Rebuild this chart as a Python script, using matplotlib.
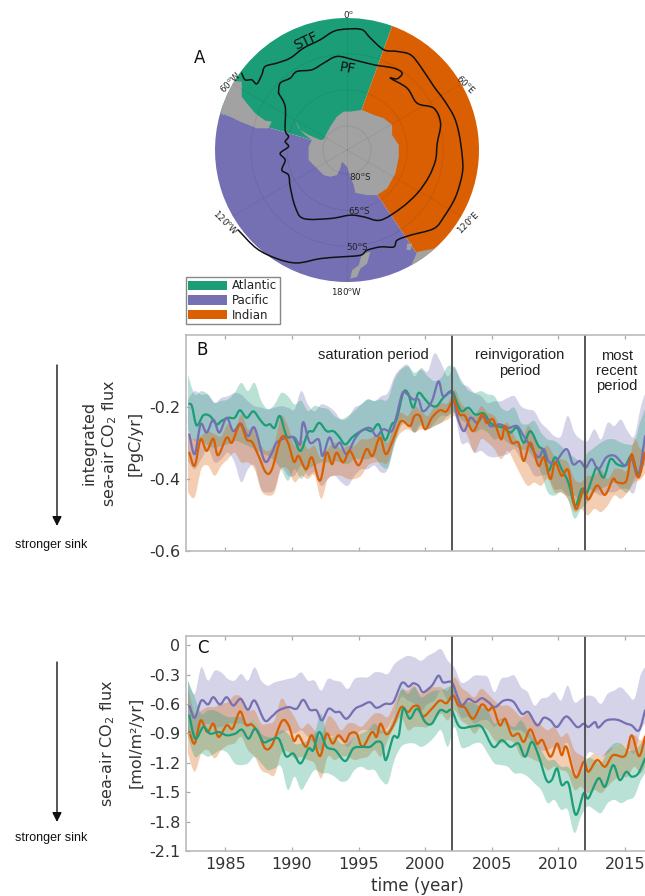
import numpy as np
import matplotlib
matplotlib.use("Agg")
import matplotlib.pyplot as plt
from matplotlib.patches import Wedge, Polygon, Circle, Patch, PathPatch, FancyArrowPatch
from matplotlib.path import Path

W, H = 645, 896
GREEN, PURPLE, ORANGE = "#1b9e77", "#7570b3", "#d95f02"
TXT = "#333333"

# ---------- Panel B: band edges (half-year samples from 1982.2) ----------
b_green_up = [-.11,-.165,-.156,-.165,-.188,-.183,-.179,-.161,-.133,-.156,-.133,-.183,-.206,-.193,-.161,-.17,-.193,-.183,-.211,-.197,-.202,-.206,-.225,-.234,-.225,-.211,-.193,-.179,-.183,-.179,-.179,-.124,-.096,-.087,-.105,-.096,-.115,-.128,-.119,-.087,
 -.092,-.124,-.152,-.161,-.156,-.165,-.17,-.202,-.211,-.202,-.244,-.248,-.239,-.271,-.29,-.294,-.308,-.327,-.34,-.354,-.327,-.313,-.299,-.29,-.29,-.299,-.304,-.299,-.235,-.19]
b_green_lo = [-.262,-.294,-.29,-.308,-.313,-.308,-.304,-.294,-.299,-.308,-.317,-.327,-.336,-.35,-.373,-.405,-.373,-.4,-.373,-.363,-.354,-.354,-.35,-.354,-.359,-.345,-.345,-.345,-.34,-.363,-.368,-.308,-.253,-.248,-.271,-.253,-.262,-.253,-.244,-.225,
 -.216,-.235,-.248,-.271,-.262,-.271,-.29,-.285,-.299,-.308,-.317,-.322,-.345,-.382,-.437,-.446,-.437,-.455,-.51,-.483,-.465,-.437,-.428,-.419,-.41,-.428,-.437,-.4,-.373,-.354]
b_purple_up = [-.179,-.156,-.166,-.166,-.189,-.175,-.17,-.161,-.166,-.184,-.198,-.202,-.207,-.202,-.198,-.202,-.207,-.156,-.193,-.212,-.193,-.198,-.212,-.235,-.23,-.202,-.193,-.179,-.184,-.17,-.161,-.115,-.092,-.083,-.115,-.092,-.101,-.051,-.078,-.115,
 -.087,-.133,-.143,-.161,-.17,-.189,-.184,-.184,-.175,-.17,-.198,-.207,-.212,-.244,-.262,-.281,-.281,-.225,-.271,-.29,-.294,-.262,-.29,-.244,-.253,-.235,-.267,-.281,-.198,-.143]
b_purple_lo = [-.35,-.373,-.345,-.317,-.354,-.345,-.327,-.354,-.409,-.373,-.363,-.428,-.437,-.428,-.368,-.391,-.391,-.363,-.391,-.382,-.419,-.4,-.391,-.409,-.419,-.391,-.373,-.373,-.363,-.382,-.373,-.299,-.235,-.244,-.271,-.244,-.262,-.244,-.225,-.225,
 -.216,-.299,-.299,-.327,-.322,-.336,-.34,-.336,-.331,-.317,-.345,-.359,-.391,-.391,-.391,-.428,-.428,-.446,-.446,-.455,-.428,-.437,-.446,-.437,-.437,-.428,-.428,-.437,-.354,-.281]
b_orange_up = [-.271,-.29,-.281,-.267,-.276,-.281,-.248,-.267,-.221,-.262,-.262,-.308,-.322,-.299,-.225,-.253,-.308,-.29,-.317,-.308,-.345,-.317,-.299,-.317,-.308,-.308,-.29,-.29,-.281,-.271,-.299,-.235,-.216,-.225,-.198,-.212,-.225,-.198,-.189,-.189,
 -.152,-.189,-.207,-.225,-.198,-.216,-.225,-.253,-.244,-.281,-.308,-.253,-.281,-.317,-.308,-.336,-.345,-.354,-.4,-.409,-.391,-.391,-.373,-.4,-.373,-.373,-.373,-.29,-.317,-.281]
b_orange_lo = [-.437,-.451,-.373,-.363,-.391,-.363,-.345,-.327,-.354,-.354,-.373,-.432,-.446,-.437,-.373,-.373,-.409,-.391,-.4,-.391,-.455,-.4,-.391,-.391,-.4,-.4,-.391,-.363,-.354,-.354,-.354,-.299,-.271,-.262,-.271,-.262,-.262,-.253,-.244,-.235,
 -.225,-.253,-.281,-.327,-.29,-.299,-.317,-.345,-.322,-.354,-.391,-.419,-.41,-.419,-.4,-.437,-.437,-.455,-.492,-.483,-.501,-.483,-.492,-.474,-.446,-.455,-.437,-.41,-.4,-.373]

# ---------- Panel C: band edges ----------
c_purple_up = [-.361,-.496,-.226,-.361,-.26,-.277,-.344,-.361,-.293,-.361,-.226,-.361,-.412,-.378,-.361,-.344,-.327,-.277,-.361,-.361,-.462,-.344,-.361,-.378,-.446,-.344,-.327,-.327,-.277,-.277,-.293,-.192,-.141,-.108,-.124,-.158,-.108,-.074,-.04,-.158,
 -.226,-.378,-.361,-.31,-.31,-.327,-.479,-.344,-.327,-.31,-.429,-.479,-.615,-.547,-.53,-.479,-.564,-.412,-.581,-.547,-.513,-.53,-.598,-.496,-.462,-.429,-.496,-.547,-.293,-.192]
c_purple_lo = [-.902,-.969,-.834,-.8,-.834,-.834,-.8,-.8,-.8,-.834,-.767,-.936,-.969,-.936,-.902,-.868,-.902,-.868,-.936,-1.003,-1.071,-.936,-.936,-.969,-1.037,-.936,-.868,-.868,-.868,-.902,-.834,-.699,-.53,-.564,-.598,-.665,-.598,-.564,-.462,-.564,
 -.564,-.733,-.733,-.8,-.767,-.767,-.834,-.767,-.834,-.868,-.868,-.936,-1.003,-1.071,-1.071,-1.037,-1.071,-1.003,-1.274,-1.307,-1.105,-1.105,-1.138,-1.105,-1.037,-1.003,-1.037,-1.105,-.868,-.767]
c_orange_up = [-.429,-.699,-.665,-.631,-.631,-.598,-.581,-.513,-.53,-.665,-.665,-.8,-.8,-.767,-.547,-.631,-.733,-.851,-.8,-.868,-.936,-.733,-.767,-.868,-.8,-.8,-.834,-.767,-.699,-.699,-.733,-.598,-.462,-.462,-.412,-.496,-.429,-.429,-.429,-.462,
 -.327,-.429,-.479,-.53,-.446,-.496,-.564,-.615,-.615,-.665,-.733,-.699,-.767,-.817,-.868,-.834,-.936,-.902,-1.071,-1.122,-1.155,-1.105,-1.138,-1.071,-1.037,-1.003,-1.02,-.919,-.969,-.834]
c_orange_lo = [-1.105,-1.291,-1.105,-1.071,-1.155,-1.071,-1.02,-1.003,-.936,-1.071,-1.138,-1.274,-1.307,-1.324,-1.105,-1.088,-1.155,-1.138,-1.172,-1.206,-1.358,-1.138,-1.172,-1.138,-1.138,-1.172,-1.155,-1.138,-1.071,-1.138,-.969,-.834,-.733,-.868,-.834,-.834,-.834,-.767,-.699,-.767,
 -.665,-.767,-.817,-.902,-.834,-.868,-.969,-1.003,-.969,-1.003,-1.138,-1.138,-1.172,-1.206,-1.274,-1.24,-1.274,-1.307,-1.476,-1.443,-1.51,-1.476,-1.51,-1.443,-1.375,-1.341,-1.341,-1.24,-1.307,-1.172]
c_green_up = [-.361,-.53,-.699,-.665,-.665,-.699,-.733,-.733,-.733,-.8,-.767,-.902,-.936,-.936,-.868,-.902,-1.003,-1.003,-.969,-.902,-.699,-.936,-.936,-1.003,-1.003,-.936,-.902,-.868,-.8,-.868,-.868,-.699,-.446,-.496,-.429,-.53,-.496,-.462,-.462,-.429,
 -.429,-.581,-.581,-.598,-.631,-.665,-.8,-.75,-.8,-.834,-.767,-.868,-.969,-1.071,-1.172,-1.172,-1.24,-1.24,-1.307,-1.307,-1.155,-1.172,-1.206,-1.071,-1.003,-1.003,-1.071,-1.071,-1.003,-.902]
c_green_lo = [-.936,-1.138,-1.105,-1.138,-1.105,-1.071,-1.105,-1.206,-1.223,-1.206,-1.138,-1.206,-1.274,-1.257,-1.24,-1.476,-1.341,-1.476,-1.375,-1.274,-1.307,-1.307,-1.341,-1.392,-1.375,-1.274,-1.24,-1.274,-1.274,-1.375,-1.409,-1.172,-1.037,-1.003,-1.003,-1.037,-1.003,-.936,-.868,-1.037,
 -.834,-1.037,-1.037,-1.003,-1.003,-1.105,-1.206,-1.223,-1.24,-1.307,-1.307,-1.341,-1.409,-1.476,-1.612,-1.578,-1.679,-1.679,-1.916,-1.747,-1.645,-1.679,-1.713,-1.612,-1.578,-1.612,-1.578,-1.544,-1.375,-1.274]

# ---------- Lines: (year, value) read at turning points ----------
b_green = [(1982.3,-.191),(1982.5,-.198),(1982.85,-.251),(1983.35,-.223),(1983.85,-.225),(1984.35,-.248),(1984.7,-.239),(1985.2,-.23),(1985.7,-.23),(1986.1,-.209),(1986.6,-.23),(1987.1,-.212),(1987.6,-.235),(1988,-.251),(1988.35,-.248),(1988.7,-.258),(1989.1,-.225),(1989.6,-.281),(1990.1,-.285),(1990.65,-.322),(1991.2,-.271),(1991.6,-.267),(1992.05,-.244),(1992.6,-.267),(1993.1,-.267),(1993.5,-.281),(1994,-.304),(1994.5,-.285),(1995,-.271),(1995.5,-.262),(1996,-.267),(1996.5,-.248),(1997,-.292),(1997.5,-.248),(1997.85,-.235),(1998.35,-.161),(1998.7,-.161),(1999.1,-.202),(1999.5,-.161),(2000,-.179),(2000.35,-.193),(2000.85,-.198),(2001.35,-.175),(2002,-.156),(2002.4,-.189),(2002.75,-.212),(2003.25,-.202),(2003.75,-.221),(2004.4,-.218),(2004.9,-.244),(2005.4,-.253),(2005.9,-.258),(2006.4,-.271),(2006.9,-.258),(2007.4,-.299),(2007.9,-.267),(2008.5,-.308),(2008.9,-.322),(2009.25,-.377),(2009.75,-.34),(2010.25,-.373),(2010.75,-.41),(2011.25,-.474),(2011.75,-.428),(2012.1,-.441),(2012.6,-.391),(2012.9,-.368),(2013.4,-.396),(2013.9,-.345),(2014.4,-.359),(2015,-.363),(2015.5,-.336),(2016,-.386),(2016.5,-.327)]
b_purple = [(1982.3,-.276),(1982.7,-.331),(1983.15,-.248),(1983.6,-.271),(1984.1,-.235),(1984.55,-.271),(1985.1,-.23),(1985.6,-.267),(1986.15,-.246),(1986.7,-.281),(1987.2,-.258),(1987.95,-.35),(1988.5,-.327),(1988.85,-.299),(1989.6,-.285),(1990.2,-.285),(1990.6,-.304),(1990.85,-.242),(1991.35,-.299),(1992,-.29),(1992.3,-.336),(1992.8,-.285),(1993.2,-.313),(1993.6,-.299),(1994.1,-.331),(1994.7,-.29),(1995.2,-.267),(1995.85,-.258),(1996.35,-.281),(1996.85,-.262),(1997.5,-.267),(1997.85,-.225),(1998.3,-.161),(1998.7,-.166),(1999.1,-.179),(1999.5,-.179),(1999.85,-.212),(2000.5,-.184),(2001,-.129),(2001.35,-.17),(2002,-.161),(2002.4,-.225),(2002.9,-.267),(2003.4,-.23),(2003.9,-.244),(2004.4,-.225),(2004.9,-.253),(2005.6,-.248),(2006.25,-.258),(2006.9,-.253),(2007.4,-.281),(2007.9,-.308),(2008.5,-.34),(2008.9,-.317),(2009.25,-.35),(2009.75,-.354),(2010.6,-.317),(2011.1,-.359),(2011.6,-.35),(2012.05,-.368),(2012.5,-.345),(2013,-.373),(2013.6,-.34),(2014.25,-.336),(2015,-.363),(2015.5,-.345),(2016,-.391),(2016.5,-.281)]
b_orange = [(1982.3,-.327),(1982.7,-.363),(1983.15,-.29),(1983.6,-.322),(1984.1,-.288),(1984.45,-.334),(1985.1,-.285),(1985.5,-.299),(1986.1,-.248),(1986.6,-.29),(1987,-.297),(1987.5,-.336),(1988.05,-.382),(1988.5,-.373),(1989.2,-.285),(1989.7,-.299),(1990.15,-.352),(1990.5,-.336),(1991.05,-.373),(1991.5,-.34),(1992.1,-.405),(1992.6,-.327),(1993,-.359),(1993.35,-.327),(1993.85,-.354),(1994.35,-.322),(1995,-.362),(1995.6,-.317),(1996.05,-.336),(1996.6,-.285),(1997.05,-.331),(1997.6,-.29),(1998.2,-.239),(1998.85,-.253),(1999.2,-.225),(1999.6,-.225),(2000,-.262),(2000.5,-.23),(2001.1,-.209),(2001.6,-.212),(2002.1,-.179),(2002.25,-.189),(2002.6,-.221),(2003,-.225),(2003.6,-.267),(2004.25,-.221),(2004.6,-.244),(2005.1,-.235),(2005.7,-.29),(2006,-.253),(2006.5,-.299),(2007,-.299),(2007.4,-.35),(2007.9,-.299),(2008.5,-.363),(2008.9,-.34),(2009.4,-.4),(2009.75,-.354),(2010.25,-.391),(2010.75,-.377),(2011.3,-.483),(2011.9,-.426),(2012.25,-.457),(2012.9,-.418),(2013.5,-.444),(2014.1,-.4),(2014.4,-.409),(2015.1,-.405),(2015.5,-.331),(2016,-.396),(2016.5,-.327)]
c_purple = [(1982.3,-.615),(1982.7,-.74),(1983.2,-.564),(1983.7,-.604),(1984.1,-.53),(1984.6,-.604),(1985.1,-.53),(1985.6,-.615),(1986.15,-.547),(1986.7,-.658),(1987.2,-.564),(1987.95,-.767),(1988.5,-.726),(1989,-.665),(1989.75,-.631),(1990.35,-.648),(1990.85,-.557),(1991.35,-.658),(1991.85,-.665),(1992.25,-.767),(1992.75,-.648),(1993.25,-.682),(1993.6,-.682),(1994.1,-.75),(1994.75,-.648),(1995.25,-.615),(1995.85,-.581),(1996.35,-.638),(1997,-.598),(1997.6,-.581),(1998.25,-.385),(1998.75,-.422),(1999.1,-.388),(1999.5,-.412),(1999.85,-.479),(2000.5,-.412),(2001,-.31),(2001.35,-.378),(2002,-.378),(2002.4,-.513),(2002.75,-.615),(2003.25,-.547),(2003.75,-.581),(2004.25,-.54),(2004.75,-.581),(2005.25,-.631),(2005.9,-.564),(2006.6,-.574),(2007.25,-.699),(2007.75,-.682),(2008.4,-.817),(2008.9,-.74),(2009.4,-.767),(2009.9,-.834),(2010.6,-.726),(2011.4,-.834),(2011.9,-.8),(2012.25,-.834),(2012.75,-.784),(2013,-.84),(2013.6,-.767),(2014.4,-.76),(2015.1,-.8),(2015.5,-.817),(2016.05,-.868),(2016.5,-.665)]
c_orange = [(1982.3,-.885),(1982.7,-1.003),(1983.15,-.767),(1983.65,-.885),(1984.1,-.8),(1984.5,-.936),(1985.1,-.817),(1985.55,-.851),(1986.1,-.675),(1986.55,-.81),(1987,-.81),(1987.5,-.902),(1988,-1.054),(1988.5,-1.02),(1989.25,-.773),(1989.75,-.817),(1990.15,-.976),(1990.5,-.919),(1991.05,-1.037),(1991.5,-.919),(1992.1,-1.132),(1992.6,-.902),(1993.05,-1.003),(1993.5,-.919),(1994,-.986),(1994.35,-.902),(1994.85,-.902),(1995.3,-1.037),(1996,-.885),(1996.35,-.936),(1996.65,-.8),(1997.1,-.909),(1997.6,-.817),(1998.2,-.631),(1998.7,-.682),(1999.1,-.625),(1999.5,-.625),(1999.85,-.726),(2000.5,-.648),(2001.1,-.564),(2001.6,-.591),(2002.1,-.513),(2002.5,-.615),(2003,-.638),(2003.6,-.75),(2004.25,-.604),(2004.75,-.665),(2005.1,-.638),(2005.6,-.817),(2006,-.75),(2006.5,-.919),(2007,-.902),(2007.4,-.986),(2007.9,-.858),(2008.4,-1.003),(2008.8,-.969),(2009.4,-1.138),(2009.9,-1.003),(2010.25,-1.122),(2010.6,-1.037),(2011.3,-1.348),(2011.9,-1.189),(2012.25,-1.291),(2012.9,-1.172),(2013.5,-1.24),(2014.1,-1.122),(2015,-1.128),(2015.5,-.919),(2016.05,-1.132),(2016.5,-.936)]
c_green = [(1982.3,-.716),(1982.75,-.953),(1983.35,-.834),(1983.85,-.902),(1984.5,-.885),(1985.1,-.919),(1985.75,-.902),(1986.25,-.861),(1986.75,-.953),(1987.25,-.851),(1987.85,-.986),(1988.35,-.969),(1989,-.953),(1989.55,-1.132),(1990.1,-1.105),(1990.65,-1.206),(1991.25,-1.054),(1991.6,-1.071),(1992.05,-.885),(1992.6,-1.037),(1993.25,-1.071),(1994,-1.182),(1994.6,-1.054),(1995.25,-1.037),(1995.85,-1.037),(1996.35,-.986),(1996.75,-1.003),(1997.05,-1.172),(1997.6,-.936),(1998,-.929),(1998.35,-.648),(1998.85,-.75),(1999.4,-.648),(2000,-.783),(2000.5,-.8),(2001.1,-.665),(2001.6,-.682),(2002,-.665),(2002.6,-.834),(2003.6,-.827),(2004.25,-.834),(2005.1,-1.037),(2005.75,-.969),(2006.4,-1.037),(2007,-1.003),(2007.5,-1.138),(2008,-.986),(2008.5,-1.122),(2009.1,-1.375),(2009.5,-1.375),(2009.9,-1.257),(2010.25,-1.426),(2010.75,-1.409),(2011.3,-1.73),(2011.9,-1.51),(2012.25,-1.561),(2013,-1.358),(2013.5,-1.443),(2014.1,-1.223),(2014.6,-1.375),(2015.1,-1.291),(2015.5,-1.341),(2016,-1.307),(2016.5,-1.155)]

# ---------- Map (azimuthal, map units from the pole) ----------
stf = [(-315,230),(-305,210),(-285,210),(-270,198),(-255,225),(-245,250),(-210,260),(-170,275),(-130,305),(-80,330),(-40,355),(0,362),(45,360),(70,335),(110,300),(150,295),(190,285),(220,250),(260,190),(290,150),(320,100),(335,50),(345,-20),(345,-70),(325,-140),(290,-200),(260,-235),(190,-255),(150,-270),(140,-290),(100,-290),(60,-300),(40,-315),(-20,-320),(-80,-325),(-150,-338),(-210,-325),(-270,-295),(-325,-240)]
pf = [(-205,170),(-200,200),(-170,215),(-150,235),(-105,240),(-70,260),(-30,280),(20,270),(80,255),(140,245),(165,230),(150,213),(130,215),(180,185),(210,140),(260,125),(280,80),(270,20),(265,-30),(245,-80),(210,-130),(160,-175),(100,-210),(50,-200),(10,-195),(-50,-205),(-130,-205),(-155,-170),(-170,-110),(-175,-75),(-195,-60),(-185,-30),(-200,-10),(-175,10),(-185,25),(-175,40),(-185,60),(-185,130),(-205,170)]
antarctica = [(-155,90),(-140,60),(-115,45),(-80,30),(-70,32),(-50,70),(-30,100),(-10,115),(10,115),(45,120),(80,105),(110,95),(135,75),(135,45),(155,15),(155,-20),(145,-70),(120,-115),(90,-135),(60,-135),(25,-128),(20,-105),(10,-80),(0,-50),(-15,-35),(-20,-55),(-30,-75),(-50,-80),(-70,-75),(-90,-55),(-115,-30),(-115,10),(-105,30),(-125,45),(-145,65)]
south_america = [(-330,205),(-315,205),(-315,160),(-300,140),(-275,110),(-245,88),(-225,85),(-235,65),(-270,65),(-320,85),(-360,105),(-380,110),(-420,110),(-420,250)]
new_zealand = [(45,-310),(70,-305),(60,-340),(40,-355),(30,-380),(10,-385),(15,-360),(35,-345)]
australia = [(190,-350),(210,-305),(260,-295),(275,-285),(400,-300),(300,-420)]
tasmania = [(180,-280),(195,-280),(190,-300),(178,-298)]
basin_lon = {"Atlantic": (-74, 20), "Indian": (20, 146), "Pacific": (146, 286)}
ring_colat = [10, 25, 40]
meridians = [0, 60, 120, 180, 240, 300]
UNITS_PER_DEG = 7.2
MAP_R = 395

fig = plt.figure(figsize=(W/100, H/100), dpi=100)

def axpx(x0, y0, x1, y1, **kw):
    return fig.add_axes([x0/W, 1-y1/H, (x1-x0)/W, (y1-y0)/H], **kw)

def ftext(x, y, s, **kw):
    kw.setdefault("ha", "center"); kw.setdefault("va", "center")
    fig.text(x/W, 1-y/H, s, **kw)

def curve(x, y):
    """Bezier pieces passing through every given point (vertices, codes)."""
    p = np.column_stack([x, y]).astype(float)
    q = np.vstack([p[0], p, p[-1]])
    v = [p[0]]
    for i in range(1, len(q)-2):
        v += [q[i]+(q[i+1]-q[i-1])/6, q[i+1]-(q[i+2]-q[i])/6, q[i+1]]
    return np.array(v), [Path.MOVETO]+[Path.CURVE4]*(len(v)-1)

def add_curve(ax, pts, color, lw):
    x, y = zip(*pts)
    v, c = curve(x, y)
    ax.add_patch(PathPatch(Path(v, c), fc="none", ec=color, lw=lw, capstyle="round", joinstyle="round"))

def add_band(ax, up, lo, color):
    t = 1982.2 + 0.5*np.arange(len(up))
    t2 = 1982.2 + 0.5*np.arange(len(lo))
    v1, c1 = curve(t, up)
    v2, c2 = curve(t2[::-1], lo[::-1])
    c2 = list(c2); c2[0] = Path.LINETO
    v = np.vstack([v1, v2, v1[:1]])
    c = list(c1)+c2+[Path.CLOSEPOLY]
    ax.add_patch(PathPatch(Path(v, c), fc=color, ec="none", alpha=0.3))

# Map
R_PX = 132; CX, CY = 347, 150; M = 1.2
am = axpx(CX-R_PX*M, CY-R_PX*M, CX+R_PX*M, CY+R_PX*M)
am.set_xlim(-MAP_R*M, MAP_R*M); am.set_ylim(-MAP_R*M, MAP_R*M); am.axis("off")
clip = Circle((0, 0), MAP_R, transform=am.transData)
for name, c in (("Atlantic", GREEN), ("Indian", ORANGE), ("Pacific", PURPLE)):
    lo, hi = basin_lon[name]
    am.add_patch(Wedge((0, 0), MAP_R, 90-hi, 90-lo, fc=c, ec="none"))
for poly in (antarctica, south_america, new_zealand, australia, tasmania):
    p = Polygon(poly, closed=True, fc="#a2a2a2", ec="none")
    am.add_patch(p); p.set_clip_path(clip)
for co in ring_colat:
    am.add_patch(Circle((0, 0), co*UNITS_PER_DEG, fc="none", ec="#000000", alpha=0.07, lw=0.7))
for lon in meridians:
    a = np.deg2rad(lon)
    am.plot([0, MAP_R*np.sin(a)], [0, MAP_R*np.cos(a)], color="#000000", alpha=0.06, lw=0.7)
add_curve(am, stf, "#111111", 1.1)
add_curve(am, pf, "#111111", 1.1)
lab = dict(ha="center", va="center", fontsize=6.3, color="#222222", clip_on=False)
for x, y, s, r in [(5,405,"0$^{\\mathrm{o}}$",0),(-350,202,"60$^{\\mathrm{o}}$W",45),(355,198,"60$^{\\mathrm{o}}$E",-45),
                   (-362,-215,"120$^{\\mathrm{o}}$W",-45),(362,-215,"120$^{\\mathrm{o}}$E",45),(0,-422,"180$^{\\mathrm{o}}$W",0),
                   (40,-80,"80$^{\\mathrm{o}}$S",0),(35,-182,"65$^{\\mathrm{o}}$S",0),(30,-288,"50$^{\\mathrm{o}}$S",0)]:
    am.text(x, y, s, rotation=r, **lab)
am.text(-122, 325, "STF", rotation=25, ha="center", va="center", fontsize=10, color="#111111")
am.text(0, 243, "PF", rotation=-10, ha="center", va="center", fontsize=10, color="#111111")
ftext(200, 58, "A", fontsize=12, color="#111111")
fig.legend(handles=[Patch(fc=GREEN, label="Atlantic"), Patch(fc=PURPLE, label="Pacific"), Patch(fc=ORANGE, label="Indian")],
           loc="lower left", bbox_to_anchor=(186/W, 1-324/H), bbox_transform=fig.transFigure, fontsize=8.5,
           frameon=True, fancybox=False, framealpha=1, edgecolor="#888888", borderpad=0.2, labelspacing=0.14,
           handlelength=3.3, handleheight=0.85, handletextpad=0.4, borderaxespad=0, labelcolor="#222222")

def panel(y0, y1, ylim, yticks, ylabels, bands, lines, xlabels):
    ax = axpx(186, y0, 645, y1)
    ax.set_xlim(1982.05, 2016.5); ax.set_ylim(*ylim)
    for (up, lo), c in bands:
        add_band(ax, up, lo, c)
    for pts, c in lines:
        add_curve(ax, pts, c, 1.6)
    for yr in (2002, 2012):
        ax.axvline(yr, color="#555555", lw=1.4)
    ax.set_xticks([1985, 1990, 1995, 2000, 2005, 2010, 2015])
    ax.set_xticklabels(["1985","1990","1995","2000","2005","2010","2015"] if xlabels else [])
    ax.set_yticks(yticks); ax.set_yticklabels(ylabels)
    ax.tick_params(direction="in", top=True, length=3, width=0.9, color="#aaaaaa", labelcolor=TXT, labelsize=11.5, pad=4)
    ax.spines["right"].set_visible(False)
    for s in ("left", "top", "bottom"):
        ax.spines[s].set_color("#bbbbbb"); ax.spines[s].set_linewidth(1.2)
    return ax

panel(335, 551, (-0.6, 0.0), [-0.6,-0.4,-0.2], ["-0.6","-0.4","-0.2"],
      [((b_purple_up,b_purple_lo),PURPLE),((b_green_up,b_green_lo),GREEN),((b_orange_up,b_orange_lo),ORANGE)],
      [(b_green,GREEN),(b_purple,PURPLE),(b_orange,ORANGE)], False)
panel(635.5, 851, (-2.1, 0.1), [-2.1,-1.8,-1.5,-1.2,-0.9,-0.6,-0.3,0], ["-2.1","-1.8","-1.5","-1.2","-0.9","-0.6","-0.3","0"],
      [((c_purple_up,c_purple_lo),PURPLE),((c_orange_up,c_orange_lo),ORANGE),((c_green_up,c_green_lo),GREEN)],
      [(c_purple,PURPLE),(c_orange,ORANGE),(c_green,GREEN)], True)

ftext(202, 350, "B", fontsize=12, color="#111111")
ftext(203, 648, "C", fontsize=12, color="#111111")
per = dict(fontsize=10.6, family="Liberation Sans", color="#222222", linespacing=1.1)
ftext(373, 355, "saturation period", **per)
ftext(520, 363, "reinvigoration\nperiod", **per)
ftext(617, 371, "most\nrecent\nperiod", **per)

yl = dict(rotation=90, fontsize=11.5, color=TXT)
ftext(89, 443, "integrated", **yl)
ftext(110, 443, "sea-air CO$_2$ flux", **yl)
ftext(135, 443, "[PgC/yr]", **yl)
ftext(108, 743, "sea-air CO$_2$ flux", **yl)
ftext(136, 742, "[mol/m\u00b2/yr]", **yl)
ftext(417, 886, "time (year)", fontsize=12, color=TXT)

for y0, y1, yt in ((365, 526, 545), (662, 822, 838)):
    fig.add_artist(FancyArrowPatch((57/W, 1-y0/H), (57/W, 1-y1/H), transform=fig.transFigure,
                   arrowstyle="-|>", mutation_scale=14, color="#111111", lw=1.0, shrinkA=0, shrinkB=0))
    ftext(51, yt, "stronger sink", fontsize=9, family="Liberation Sans", color="#111111")

fig.savefig("out.png", dpi=100)
